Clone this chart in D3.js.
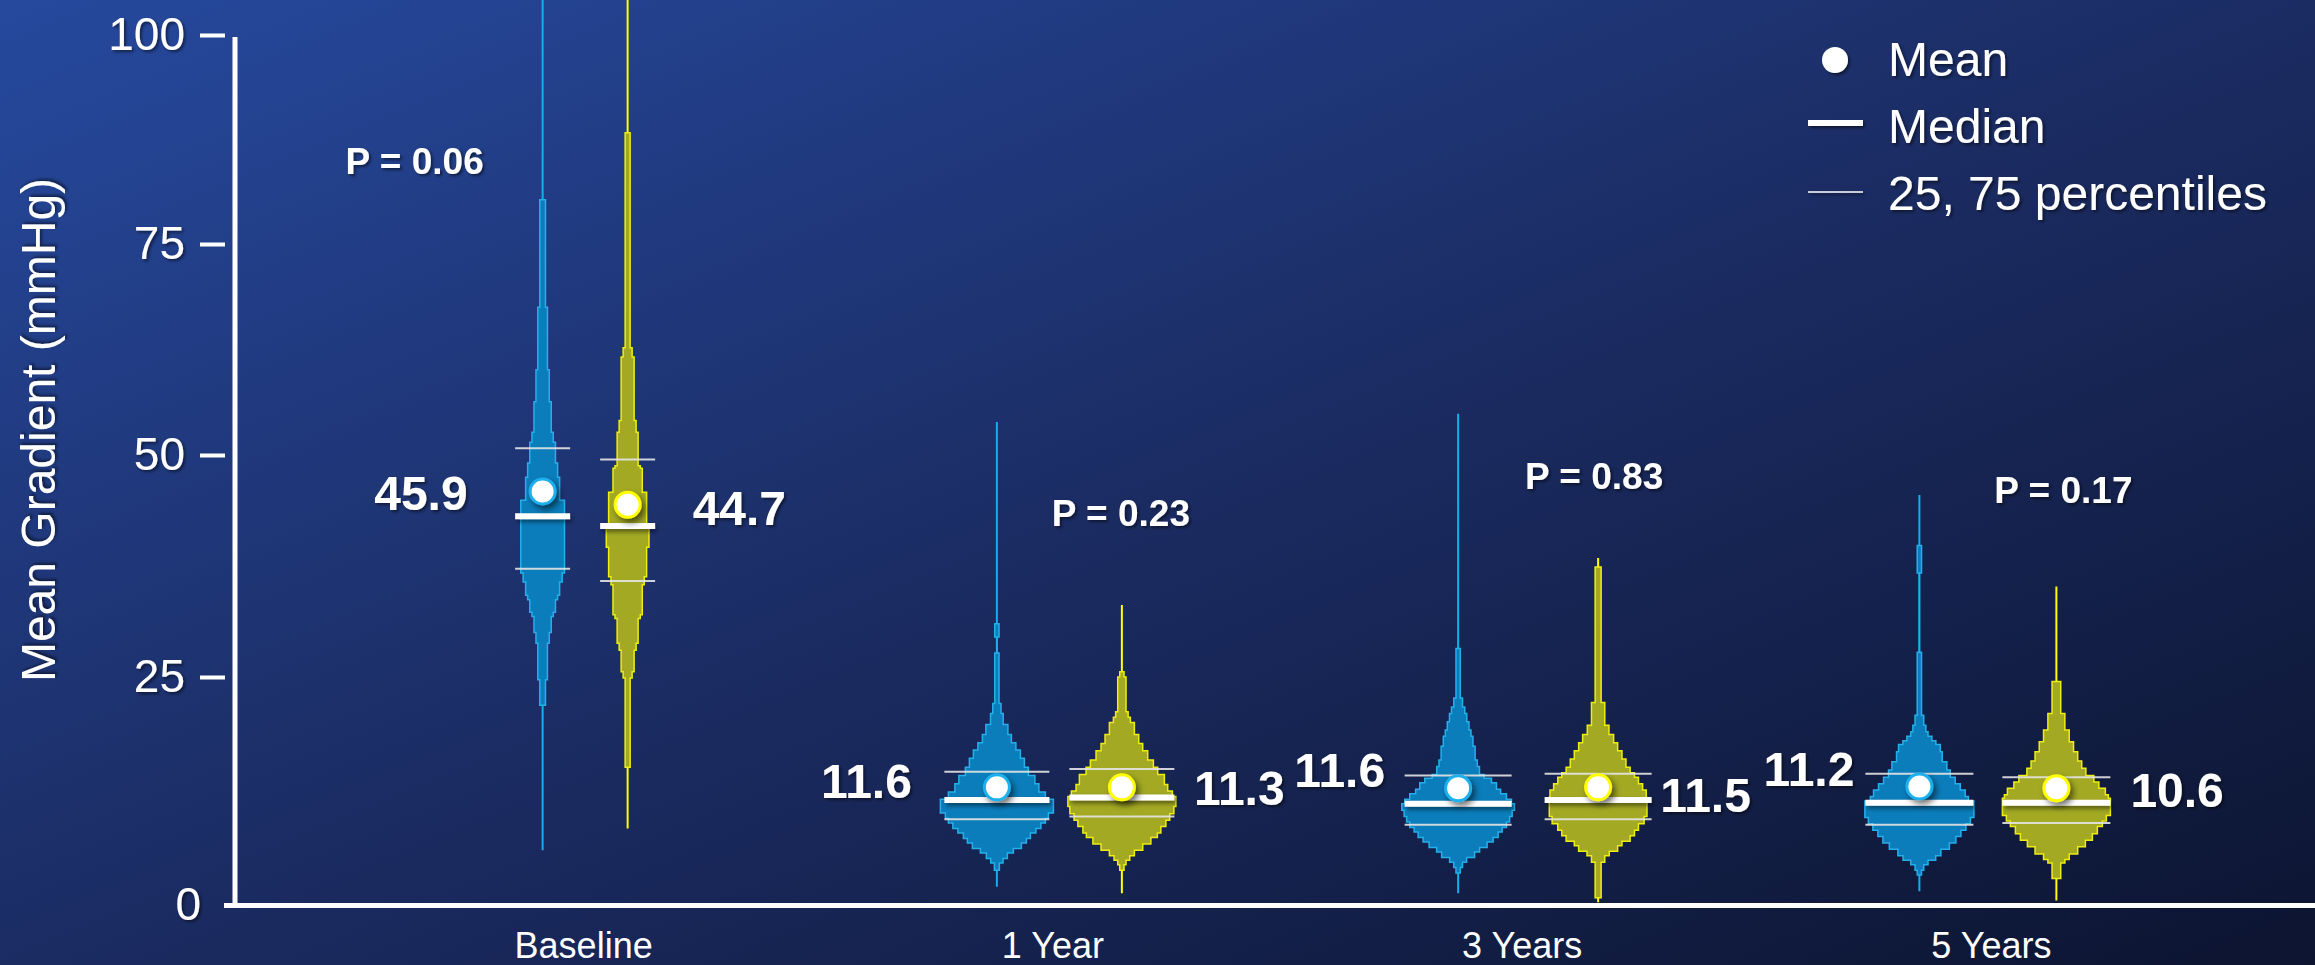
<!DOCTYPE html>
<html>
<head>
<meta charset="utf-8">
<script src="https://cdn.jsdelivr.net/npm/d3@7"></script>
<style>
  html, body { margin: 0; padding: 0; overflow: hidden; background: #1b2c63; }
  svg { display: block; }
</style>
</head>
<body>
<div id="chart"></div>
<script>
// categories and tick labels
const categories = ["Baseline", "1 Year", "3 Years", "5 Years"];
const yTicks = [0, 25, 50, 75, 100];
const pLabels = ["P = 0.06", "P = 0.23", "P = 0.83", "P = 0.17"];

// printed mean values
const labelA = ["45.9", "11.6", "11.6", "11.2"];
const labelB = ["44.7", "11.3", "11.5", "10.6"];

// summary statistics (mmHg)
const meanA = [45.9, 12.9, 12.8, 13.0];
const meanB = [44.4, 12.9, 12.9, 12.8];
const medianA = [43.1, 11.5, 11.1, 11.2];
const medianB = [42.0, 11.8, 11.5, 11.2];
const q1A = [37.2, 9.4, 8.8, 8.8];
const q1B = [35.8, 9.7, 9.4, 9.0];
const q3A = [50.8, 14.6, 14.2, 14.4];
const q3B = [49.5, 14.9, 14.4, 14.0];
const minA = [6.0, 2.0, 1.3, 1.5];
const minB = [8.4, 1.3, 0.3, 0.5];
const maxA = [106, 53.9, 54.9, 45.5];
const maxB = [106, 33.1, 38.4, 35.2];

// histogram steps: [bin start (mmHg), relative frequency] , last entry closes the shape
const baseA = [[21.9,5.7],[24.7,9.7],[28.8,13.3],[30.0,17.3],[31.8,21.3],[32.3,25.7],[33.7,30],[34.2,34],[35.7,39],[36.7,43.7],[44.9,34],[47.5,30],[49.1,25.7],[51.5,21.3],[52.7,17.3],[56.3,13.3],[60.1,9.7],[67.5,5.7],[80.3,0]];
const baseB = [[15.1,5],[24.9,9],[25.6,13],[28.0,17],[28.8,21],[31.6,25.3],[32.0,29.3],[35.4,33.3],[36.3,38],[39.6,42.7],[41.9,38],[45.8,29.3],[48.5,25.3],[48.8,21],[52.7,17],[54.1,13],[61.6,9],[62.7,5],[88.3,0]];
const yr1A = [[3.8,5],[4.6,12.3],[5.1,21],[5.7,33],[6.2,49],[6.8,59],[7.3,67],[7.9,78],[8.4,88],[9.0,97],[9.5,103],[10.1,113],[11.6,97],[12.4,84],[13.3,76],[14.2,63],[15.1,55],[16.1,47],[17.0,38],[17.8,29],[18.7,22],[19.8,12.7],[21.0,8.3],[22.1,4.3],[27.7,0],[29.5,4.3],[31.0,0]];
const yr1B = [[3.8,4.3],[4.4,8.3],[4.9,15.7],[5.4,25],[6.0,41.7],[6.7,58],[7.4,71],[7.9,78],[8.6,88],[9.3,95.7],[10.0,104],[10.8,108],[11.9,101],[12.5,91.7],[13.2,85],[14.3,71.7],[15.1,63],[15.9,51.7],[16.9,41.7],[17.7,33.7],[18.7,25],[20.0,17],[20.6,12.5],[21.2,8.3],[25.0,4.3],[25.6,0]];
const yr3A = [[3.5,4.3],[4.1,8.7],[4.7,17],[5.2,33],[5.8,43],[6.3,58],[6.9,70],[7.4,80],[8.0,88],[8.5,96.7],[9.1,103],[9.7,108],[10.4,112.7],[11.1,106.7],[11.6,96.7],[12.2,85],[12.7,76.7],[13.4,66.7],[13.9,52],[14.3,42.7],[15.2,38.3],[15.9,34],[17.4,29.7],[18.5,25.7],[19.2,21.7],[20.1,17.3],[21.0,13.3],[21.7,8.7],[22.7,4.3],[28.2,0]];
const yr3B = [[0.8,6],[4.7,13.3],[5.4,22.3],[5.9,39],[6.5,47.7],[7.0,64],[7.6,72.7],[8.2,80.7],[8.9,92],[9.7,97.7],[11.8,96.3],[12.6,89],[13.3,80.7],[14.0,72.7],[14.5,64],[15.1,55.7],[16.0,47.7],[16.9,39],[17.8,31],[18.7,21.7],[19.7,13.3],[22.2,6],[37.4,0]];
const yr5A = [[3.3,4.3],[3.8,8.7],[4.4,17.3],[4.9,32.7],[5.4,43],[6.1,60],[6.8,73],[7.5,83],[8.2,93],[8.9,102],[9.6,109],[11.4,98],[11.9,91.7],[12.6,81.7],[13.3,71.7],[14.0,61.7],[14.8,55],[15.7,45.7],[16.8,41.7],[17.6,33],[18.0,25],[18.5,17.3],[19.0,13],[19.7,8.7],[20.8,4.3],[27.8,0],[36.7,4.3],[39.8,0]];
const yr5B = [[2.9,8.7],[4.6,17],[5.0,25.7],[5.6,42.7],[6.4,58],[7.1,72],[7.8,82],[8.6,92],[9.2,100],[9.8,108],[11.7,104],[12.1,98],[12.8,85],[13.5,75],[14.2,59],[15.0,50.7],[15.8,42.7],[16.8,34.3],[17.9,25.7],[19.2,17],[21.0,8.7],[24.5,0]];

const width = 2315;
const height = 965;
const font = "'Liberation Sans', Arial, Helvetica, sans-serif";

// layout tweaks per group (pixels)
const statLineWidth = [55, 105, 107, 108];
const pDx = [-169, 68, 72, 72];
const pY = [83.4, 42.0, 46.2, 44.6];

const series = [
  {
    bins: [baseA, yr1A, yr3A, yr5A], mean: meanA, median: medianA, q1: q1A, q3: q3A,
    min: minA, max: maxA, label: labelA,
    fill: "#0b7dbb", edge: "#25b0ec", whisker: "#12aef0", dot: "#1fb0ee",
    offset: [-41, -56, -64, -72], labelDx: [-75, -85, -73, -65], labelDy: [19, 11, -1, 0], anchor: "end"
  },
  {
    bins: [baseB, yr1B, yr3B, yr5B], mean: meanB, median: medianB, q1: q1B, q3: q3B,
    min: minB, max: maxB, label: labelB,
    fill: "#a3a923", edge: "#eeee10", whisker: "#ffff00", dot: "#ffff00",
    offset: [44, 69, 76, 65], labelDx: [65, 72, 62, 74], labelDy: [20, 18, 25, 19], anchor: "start"
  }
];

const svg = d3.select("#chart")
  .append("svg")
  .attr("width", width)
  .attr("height", height)
  .style("font-family", font);

const defs = svg.append("defs");

// background gradient
const bg = defs.append("linearGradient")
  .attr("id", "bg")
  .attr("gradientUnits", "userSpaceOnUse")
  .attr("x1", 0).attr("y1", 0)
  .attr("x2", 685).attr("y2", 1644);
bg.append("stop").attr("offset", 0).attr("stop-color", "#26499e");
bg.append("stop").attr("offset", 0.5).attr("stop-color", "#1b2c63");
bg.append("stop").attr("offset", 1).attr("stop-color", "#0c1430");

const shadow = defs.append("filter").attr("id", "shadow")
  .attr("x", "-30%").attr("y", "-30%").attr("width", "160%").attr("height", "160%");
shadow.append("feDropShadow")
  .attr("dx", 2).attr("dy", 2).attr("stdDeviation", 1.5)
  .attr("flood-color", "#000").attr("flood-opacity", 0.5);

// flat lines have an empty box, so this one works in page units
const lineShadow = defs.append("filter").attr("id", "lineShadow")
  .attr("filterUnits", "userSpaceOnUse")
  .attr("x", 0).attr("y", 0).attr("width", width).attr("height", height);
lineShadow.append("feDropShadow")
  .attr("dx", 2).attr("dy", 3).attr("stdDeviation", 2)
  .attr("flood-color", "#000").attr("flood-opacity", 0.45);

const dotShadow = defs.append("filter").attr("id", "dotShadow")
  .attr("x", "-60%").attr("y", "-60%").attr("width", "220%").attr("height", "220%");
dotShadow.append("feDropShadow")
  .attr("dx", 3).attr("dy", 4).attr("stdDeviation", 3)
  .attr("flood-color", "#000").attr("flood-opacity", 0.55);

svg.append("rect")
  .attr("width", width)
  .attr("height", height)
  .attr("fill", "url(#bg)");

// scales
const x = d3.scaleBand()
  .domain(categories)
  .range([349, 2226]);

const y = d3.scaleLinear()
  .domain([0, 25, 50, 75, 100])
  .range([905, 677, 455, 244, 35]);

const freq = d3.scaleLinear()
  .domain([0, 100])
  .range([0, 100]);

const groupCenter = c => x(c) + x.bandwidth() / 2;

// y axis
const yAxis = svg.append("g")
  .attr("transform", "translate(235,0)")
  .call(d3.axisLeft(y).tickValues(yTicks).tickSize(0).tickPadding(50));
yAxis.select(".domain").remove();
yAxis.selectAll(".tick text")
  .attr("fill", "#fff")
  .attr("font-size", 46)
  .attr("font-family", font)
  .attr("filter", "url(#shadow)")
  .attr("x", d => d === 0 ? -34 : -50);
yAxis.selectAll(".tick")
  .filter(d => d !== 0)
  .append("line")
  .attr("x1", -35)
  .attr("x2", -10)
  .attr("stroke", "#fff")
  .attr("stroke-width", 4);

svg.append("line")
  .attr("x1", 235).attr("x2", 235)
  .attr("y1", 37).attr("y2", y(0))
  .attr("stroke", "#fff")
  .attr("stroke-width", 5);

svg.append("text")
  .attr("transform", "translate(55,430) rotate(-90)")
  .attr("text-anchor", "middle")
  .attr("fill", "#fff")
  .attr("font-size", 48)
  .attr("filter", "url(#shadow)")
  .text("Mean Gradient (mmHg)");

// x axis
const xAxis = svg.append("g")
  .attr("transform", `translate(0,${y(0)})`)
  .call(d3.axisBottom(x).tickSize(0).tickPadding(27));
xAxis.select(".domain").remove();
xAxis.selectAll(".tick text")
  .attr("fill", "#fff")
  .attr("font-size", 36)
  .attr("font-family", font);

svg.append("line")
  .attr("x1", 224).attr("x2", width)
  .attr("y1", y(0) + 0.5).attr("y2", y(0) + 0.5)
  .attr("stroke", "#fff")
  .attr("stroke-width", 5);

// violins
series.forEach(s => {
  categories.forEach((c, i) => {
    const cx = groupCenter(c) + s.offset[i];
    const g = svg.append("g");

    g.append("line")
      .attr("x1", cx).attr("x2", cx)
      .attr("y1", y(s.min[i])).attr("y2", y(s.max[i]))
      .attr("stroke", s.whisker)
      .attr("stroke-width", 2);

    const area = d3.area()
      .curve(d3.curveStepBefore)
      .y(d => y(d[0]))
      .x0(d => cx - freq(d[1]) / 2)
      .x1(d => cx + freq(d[1]) / 2);

    g.append("path")
      .datum(s.bins[i])
      .attr("d", area)
      .attr("fill", s.fill)
      .attr("stroke", s.edge)
      .attr("stroke-width", 1.5)
      .attr("stroke-linejoin", "miter");

    const half = statLineWidth[i] / 2;
    [s.q1[i], s.q3[i]].forEach(v => {
      g.append("line")
        .attr("x1", cx - half).attr("x2", cx + half)
        .attr("y1", y(v)).attr("y2", y(v))
        .attr("stroke", "#e4e4e4")
        .attr("stroke-opacity", 0.9)
        .attr("stroke-width", 2);
    });

    g.append("line")
      .attr("x1", cx - half).attr("x2", cx + half)
      .attr("y1", y(s.median[i])).attr("y2", y(s.median[i]))
      .attr("stroke", "#fff")
      .attr("stroke-width", 6)
      .attr("filter", "url(#lineShadow)");

    g.append("circle")
      .attr("cx", cx)
      .attr("cy", y(s.mean[i]))
      .attr("r", 12.5)
      .attr("fill", "#fff")
      .attr("stroke", s.dot)
      .attr("stroke-width", 3)
      .attr("filter", "url(#dotShadow)");

    svg.append("text")
      .attr("x", cx + s.labelDx[i])
      .attr("y", y(s.mean[i]) + s.labelDy[i])
      .attr("text-anchor", s.anchor)
      .attr("fill", "#fff")
      .attr("font-size", 48)
      .attr("font-weight", "bold")
      .attr("filter", "url(#shadow)")
      .text(s.label[i]);
  });
});

// p values
svg.selectAll(".pval")
  .data(categories)
  .enter()
  .append("text")
  .attr("class", "pval")
  .attr("x", (c, i) => groupCenter(c) + pDx[i])
  .attr("y", (c, i) => y(pY[i]))
  .attr("text-anchor", "middle")
  .attr("fill", "#fff")
  .attr("font-size", 37)
  .attr("font-weight", "bold")
  .attr("filter", "url(#shadow)")
  .text((c, i) => pLabels[i]);

// legend
const legend = svg.append("g").attr("filter", "url(#shadow)");
legend.append("circle")
  .attr("cx", 1835).attr("cy", 60).attr("r", 13)
  .attr("fill", "#fff");
legend.append("line")
  .attr("x1", 1808).attr("x2", 1863)
  .attr("y1", 123).attr("y2", 123)
  .attr("stroke", "#fff").attr("stroke-width", 6);
legend.append("line")
  .attr("x1", 1808).attr("x2", 1863)
  .attr("y1", 192).attr("y2", 192)
  .attr("stroke", "#fff").attr("stroke-width", 1.5);
legend.selectAll("text")
  .data(["Mean", "Median", "25, 75 percentiles"])
  .enter()
  .append("text")
  .attr("x", 1888)
  .attr("y", (d, i) => 76 + i * 67)
  .attr("fill", "#fff")
  .attr("font-size", 48)
  .text(d => d);
</script>
</body>
</html>
